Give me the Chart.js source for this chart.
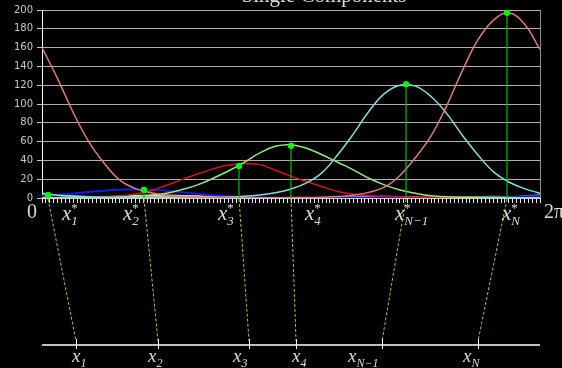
<!DOCTYPE html>
<html>
<head>
<meta charset="UTF-8">
<title>Single Components</title>
<script src="https://cdn.jsdelivr.net/npm/chart.js"></script>
<style>
    body { margin: 0; background: #000; }
    canvas { display: block; background: #000; }
</style>
</head>
<body>
<canvas id="chart" width="562" height="368"></canvas>
<script>
    // sample positions on [0, 2pi]
    const xs = [0, 0.196, 0.393, 0.589, 0.785, 0.982, 1.178, 1.374, 1.571, 1.767, 1.963, 2.160, 2.356,
        2.553, 2.749, 2.945, 3.142, 3.338, 3.534, 3.731, 3.927, 4.123, 4.320, 4.516, 4.712, 4.909,
        5.105, 5.301, 5.498, 5.694, 5.890, 6.087, 6.283];

    // components
    const salmon = [160, 127, 91, 60, 37, 19, 10, 5.5, 3, 1.5, 1, 0.6, 0.4, 0.3, 0.3, 0.3, 0.4,
        0.5, 0.8, 1.5, 3, 6, 11.5, 24, 43, 66, 98, 135, 168, 189, 197, 185, 158];
    const cyan = [5, 3, 2, 1.2, 0.7, 0.5, 0.4, 0.3, 0.3, 0.3, 0.4, 0.6, 1, 1.8, 3.2, 5.5, 9.5,
        16, 27, 46, 68, 92, 111, 120, 119, 108, 90, 67, 46, 28, 17, 10, 5];
    const green = [0.3, 0.3, 0.3, 0.4, 0.6, 1, 1.8, 3, 5, 9, 14, 21, 29, 38, 48, 55, 56.5,
        53, 46, 38, 30, 21, 14, 8.5, 5, 2.3, 1.2, 0.8, 0.6, 0.5, 0.4, 0.3, 0.3];
    const red = [0.4, 0.5, 0.7, 1, 1.5, 2.2, 4.3, 7.8, 13.5, 19.5, 25.5, 31, 35, 36.5, 35.5, 29.5, 23,
        17.5, 12, 7, 4, 2.5, 1.8, 1.2, 0.8, 0.6, 0.5, 0.4, 0.4, 0.3, 0.3, 0.3, 0.4];
    const blue = [2, 3.2, 4.8, 6.4, 7.8, 8.8, 9.2, 8.9, 7.8, 6.2, 4.5, 3, 1.9, 1.1, 0.6, 0.3, 0.2,
        0.15, 0.15, 0.15, 0.15, 0.15, 0.15, 0.15, 0.15, 0.15, 0.15, 0.2, 0.4, 0.7, 1.1, 1.5, 2];
    const skyblue = [3.1, 2.9, 2.2, 1.4, 0.8, 0.4, 0.2, 0.1, 0.1, 0.1, 0.1, 0.1, 0.1, 0.1, 0.1, 0.1, 0.1,
        0.1, 0.1, 0.1, 0.1, 0.1, 0.1, 0.1, 0.1, 0.1, 0.1, 0.1, 0.2, 0.4, 0.9, 2.0, 3.1];
    const yellow = [0.1, 0.1, 0.2, 0.5, 1, 1.8, 2.6, 3, 3, 2.5, 1.8, 1.1, 0.6, 0.3, 0.1, 0.1, 0.1,
        0.1, 0.1, 0.1, 0.1, 0.1, 0.1, 0.1, 0.1, 0.1, 0.1, 0.1, 0.1, 0.1, 0.1, 0.1, 0.1];
    const orange = [0.1, 0.1, 0.1, 0.1, 0.1, 0.3, 0.7, 1.3, 1.9, 2.2, 2, 1.5, 0.9, 0.5, 0.2, 0.1, 0.1,
        0.1, 0.1, 0.1, 0.1, 0.1, 0.1, 0.1, 0.1, 0.1, 0.1, 0.1, 0.1, 0.1, 0.1, 0.1, 0.1];
    const pink = [0.1, 0.1, 0.1, 0.1, 0.1, 0.1, 0.1, 0.1, 0.1, 0.1, 0.1, 0.1, 0.1, 0.1, 0.1, 0.1, 0.1,
        0.1, 0.3, 0.6, 1, 1.4, 1.6, 1.4, 1, 0.6, 0.3, 0.1, 0.1, 0.1, 0.1, 0.1, 0.1];
    const lime = [0.1, 0.1, 0.1, 0.1, 0.1, 0.1, 0.1, 0.1, 0.1, 0.1, 0.1, 0.1, 0.1, 0.1, 0.1, 0.1, 0.1,
        0.1, 0.1, 0.1, 0.1, 0.1, 0.1, 0.1, 0.1, 0.3, 0.6, 1, 1.3, 1.5, 1.3, 1, 0.6];

    // maxima x*_i and their heights, and the mapped points x_i
    const starX = [0.076, 1.287, 2.486, 3.142, 4.593, 5.867];
    const starY = [3.2, 8.8, 34, 55.5, 121, 197];
    const obsX = [0.429, 1.464, 2.612, 3.205, 4.290, 5.501];
    const subLabels = ["1", "2", "3", "4", "N\u22121", "N"];
    const endLabels = ["0", "2\u03c0"];
    const yTicks = [0, 20, 40, 60, 80, 100, 120, 140, 160, 180, 200];
    const title = "Single Components";

    // label nudges (pixels) so the glyphs sit like in the original
    const starDx = [14, -21, -21, 14, -11, -5];
    const obsDx = [-4, -10, -16, -4, -34, -15];

    const curves = [
        { label: "c6", data: salmon, color: "#e07a7a" },
        { label: "c5", data: cyan, color: "#86dcdc" },
        { label: "c4", data: green, color: "#98e486" },
        { label: "c3", data: red, color: "#d41414" },
        { label: "c2", data: blue, color: "#1818ee" },
        { label: "c1", data: skyblue, color: "#8cb8e8" },
        { label: "s1", data: yellow, color: "#e8e890" },
        { label: "s2", data: orange, color: "#f0a060" },
        { label: "s3", data: pink, color: "#e0a0c8" },
        { label: "s4", data: lime, color: "#c0e080" }
    ];

    const datasets = [{
        label: "maxima",
        data: starX.map((x, i) => ({ x: x, y: starY[i] })),
        showLine: false,
        pointRadius: 3,
        pointBackgroundColor: "#00ff00",
        pointBorderColor: "#00ff00",
        pointBorderWidth: 0
    }];
    curves.forEach(c => {
        datasets.push({
            label: c.label,
            data: xs.map((x, i) => ({ x: x, y: c.data[i] })),
            borderColor: c.color,
            borderWidth: c.label === "c2" ? 2 : 1.5,
            pointRadius: 0,
            tension: 0.4,
            fill: false
        });
    });

    function drawX(ctx, x, y, sub, star, size) {
        ctx.font = "italic " + size + "px 'Liberation Serif'";
        ctx.textAlign = "left";
        ctx.fillText("x", x, y);
        const w = ctx.measureText("x").width;
        const s = Math.round(size * 0.62);
        ctx.font = "italic " + s + "px 'Liberation Serif'";
        ctx.fillText(sub, x + w, y + 5);
        if (star) {
            ctx.font = s + "px 'Liberation Serif'";
            ctx.fillText("*", x + w, y - 8);
        }
    }

    const overlay = {
        id: "overlay",
        afterDatasetsDraw(chart) {
            // green drop lines from each maximum to the axis, then redraw the dots on top
            const ctx = chart.ctx;
            const y0 = chart.scales.y.getPixelForValue(0);
            const meta = chart.getDatasetMeta(0);
            ctx.save();
            ctx.strokeStyle = "#00c000";
            ctx.lineWidth = 1.2;
            meta.data.forEach(pt => {
                ctx.beginPath();
                ctx.moveTo(Math.round(pt.x), pt.y);
                ctx.lineTo(Math.round(pt.x), y0);
                ctx.stroke();
            });
            ctx.fillStyle = "#00ff00";
            meta.data.forEach(pt => {
                ctx.beginPath();
                ctx.arc(pt.x, pt.y, 3, 0, 2 * Math.PI);
                ctx.fill();
            });
            ctx.restore();
        },
        afterDraw(chart) {
            const ctx = chart.ctx;
            const xs_ = chart.scales.x;
            const y0 = chart.scales.y.getPixelForValue(0);
            const lowY = y0 + 147;
            ctx.save();
            ctx.fillStyle = "#dcdcdc";

            // title, cut off by the top edge
            ctx.font = "21px 'Liberation Serif'";
            ctx.textAlign = "center";
            ctx.textBaseline = "alphabetic";
            ctx.fillText(title, 324, 2);

            // 0 and 2pi
            ctx.font = "20px 'Liberation Serif'";
            ctx.textAlign = "right";
            ctx.fillText(endLabels[0], xs_.getPixelForValue(0) - 5, y0 + 20);
            ctx.textAlign = "left";
            ctx.fillText(endLabels[1], xs_.getPixelForValue(2 * Math.PI) + 4, y0 + 20);

            // connectors
            ctx.strokeStyle = "#b4c21c";
            ctx.lineWidth = 1;
            ctx.setLineDash([3, 2]);
            starX.forEach((sx, i) => {
                ctx.beginPath();
                ctx.moveTo(xs_.getPixelForValue(sx), y0 + 1);
                ctx.lineTo(xs_.getPixelForValue(obsX[i]), lowY - 4);
                ctx.stroke();
            });
            ctx.setLineDash([]);

            // lower axis
            ctx.strokeStyle = "#ffffff";
            ctx.lineWidth = 1.5;
            ctx.beginPath();
            ctx.moveTo(xs_.getPixelForValue(0), lowY);
            ctx.lineTo(xs_.getPixelForValue(2 * Math.PI), lowY);
            ctx.stroke();
            ctx.lineWidth = 1;
            obsX.forEach(ox => {
                const px = Math.round(xs_.getPixelForValue(ox)) + 0.5;
                ctx.beginPath();
                ctx.moveTo(px, lowY - 6);
                ctx.lineTo(px, lowY + 4);
                ctx.stroke();
            });

            // labels
            starX.forEach((sx, i) => {
                drawX(ctx, xs_.getPixelForValue(sx) + starDx[i], y0 + 22, subLabels[i], true, 21);
            });
            obsX.forEach((ox, i) => {
                drawX(ctx, xs_.getPixelForValue(ox) + obsDx[i], lowY + 17, subLabels[i], false, 19);
            });
            ctx.restore();
        }
    };

    new Chart(document.getElementById("chart"), {
        type: "line",
        data: { datasets: datasets },
        options: {
            responsive: false,
            animation: false,
            devicePixelRatio: 1,
            layout: { padding: { top: 10, right: 22, left: 0, bottom: 0 } },
            plugins: { legend: { display: false }, tooltip: { enabled: false } },
            scales: {
                x: {
                    type: "linear",
                    min: 0,
                    max: 2 * Math.PI,
                    afterBuildTicks: s => {
                        const t = [];
                        for (let i = 0; i <= 128; i++) t.push({ value: i * 2 * Math.PI / 128 });
                        s.ticks = t;
                    },
                    afterFit: s => { s.height = 170; },
                    ticks: { display: false },
                    grid: {
                        color: c => (c.tick && c.index === 128) ? "#909090" : "transparent",
                        tickColor: "#e8e8e8",
                        tickLength: 5
                    },
                    border: { color: "#d0d0d0" }
                },
                y: {
                    min: 0,
                    max: 200,
                    afterBuildTicks: s => { s.ticks = yTicks.map(v => ({ value: v })); },
                    afterFit: s => { s.width = 42; },
                    ticks: {
                        color: "#c8c8c8",
                        padding: 4,
                        font: { family: "'DejaVu Sans'", size: 10 }
                    },
                    grid: { color: "#b0b0b0", tickColor: "#c8c8c8", tickLength: 5 },
                    border: { color: "#ffffff" }
                }
            }
        },
        plugins: [overlay]
    });
</script>
</body>
</html>
